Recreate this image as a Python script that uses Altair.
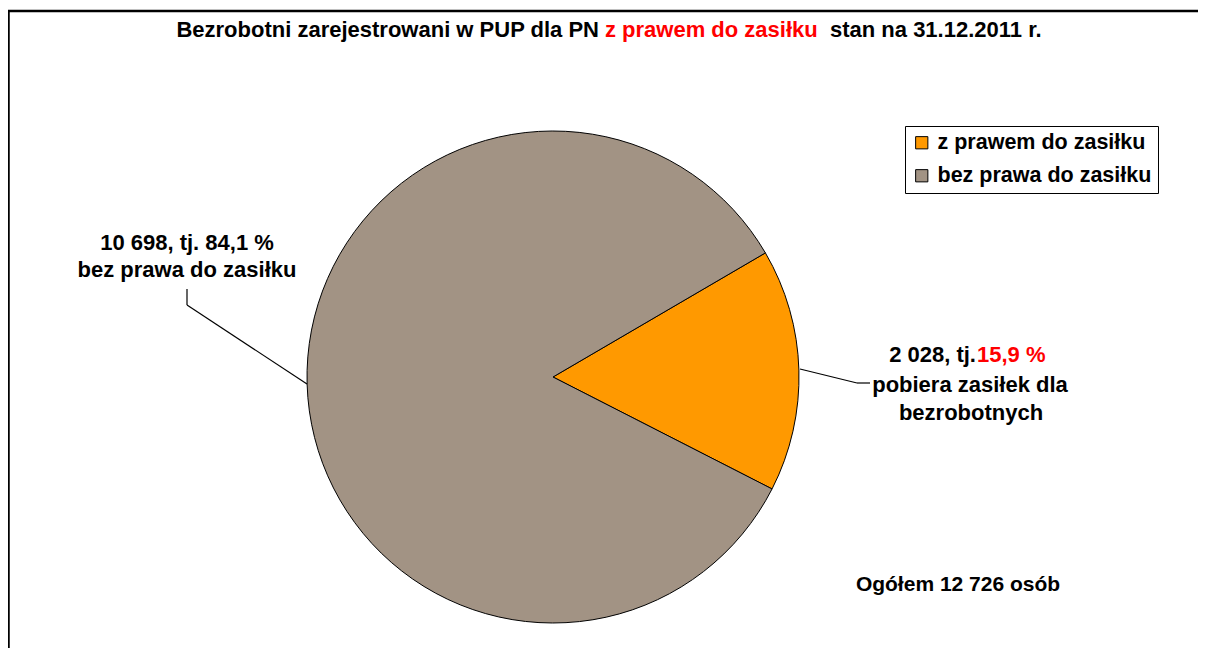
import altair as alt
import pandas as pd
import math

categories = ["z prawem do zasiłku", "bez prawa do zasiłku"]
values = [2028, 10698]
colors = ["#FF9900", "#A29384"]

title_parts = ["Bezrobotni zarejestrowani w PUP dla PN", "z prawem do zasiłku", "stan na 31.12.2011 r."]
left_label = ["10 698, tj. 84,1 %", "bez prawa do zasiłku"]
right_label_a = "2 028, tj."
right_label_pct = "15,9 %"
right_label_rest = ["pobiera zasiłek dla", "bezrobotnych"]
total_label = "Ogółem 12 726 osób"

FONT = "Liberation Sans"
FS = 22
W, H = 1190, 640
CX, CY, R = 545, 369, 246
start = math.radians(59.7)

df = pd.DataFrame({"kat": categories, "val": values, "ord": [0, 1]})

pie = alt.Chart(df).mark_arc(stroke="black", strokeWidth=1, outerRadius=R).encode(
    theta=alt.Theta("val:Q", stack=True, scale=alt.Scale(range=[start, start + 2 * math.pi])),
    order=alt.Order("ord:Q"),
    color=alt.Color(
        "kat:N",
        scale=alt.Scale(domain=categories, range=colors),
        sort=categories,
        legend=alt.Legend(
            title=None, orient="none", legendX=897, legendY=118,
            symbolType="square", symbolSize=150, symbolStrokeColor="black",
            symbolStrokeWidth=1, labelFont=FONT, labelFontSize=21.5,
            labelFontWeight="bold", labelColor="black", labelLimit=0,
            strokeColor="black", fillColor="white", padding=6, rowPadding=10,
            cornerRadius=0, labelOffset=5,
        ),
    ),
    x=alt.value(CX),
    y=alt.value(CY),
)

base = alt.Chart(pd.DataFrame({"a": [0]}))

def txt(s, x, y, align="center", color="black", fs=FS):
    return base.mark_text(font=FONT, fontSize=fs, fontWeight="bold", align=align,
                          baseline="middle", color=color).encode(
        x=alt.value(x), y=alt.value(y), text=alt.value(s))

def rule(x, y, x2, y2, w=1.2):
    return base.mark_rule(color="black", strokeWidth=w).encode(
        x=alt.value(x), y=alt.value(y), x2=alt.value(x2), y2=alt.value(y2))

layers = [
    rule(0, 3, W, 3, 2.5),
    rule(0.5, 3, 0.5, H, 2.5),
    pie,
    txt(title_parts[0], 591, 22, "right"),
    txt(title_parts[1], 597, 22, "left", "#FF0000"),
    txt(title_parts[2], 822, 22, "left"),
    txt(left_label[0], 179, 235),
    txt(left_label[1], 179, 262),
    txt(right_label_a, 968, 347, "right"),
    txt(right_label_pct, 969, 347, "left", "#FF0000"),
    txt(right_label_rest[0], 962, 377),
    txt(right_label_rest[1], 963, 405),
    txt(total_label, 950, 577, fs=21),
    rule(179, 281, 179, 297),
    rule(179, 297, 299, 376),
    rule(792, 361, 849, 375),
    rule(849, 375, 862, 375),
]

chart = alt.layer(*layers).properties(
    width=W, height=H, autosize=alt.AutoSizeParams(type="none"), padding=0,
    background="white",
).configure_view(stroke=None)

chart.save("out.html", embed_options={"renderer": "svg", "actions": False})
